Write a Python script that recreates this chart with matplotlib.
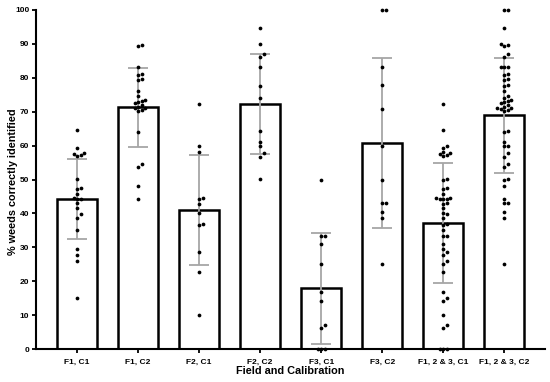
import numpy as np
import matplotlib
matplotlib.use("Agg")
import matplotlib.pyplot as plt

plt.rcParams['font.family'] = ['Liberation Sans', 'DejaVu Sans']
plt.rcParams['font.weight'] = 'bold'

groups = ["F1, C1", "F1, C2", "F2, C1", "F2, C2", "F3, C1", "F3, C2",
          "F1, 2 & 3, C1", "F1, 2 & 3, C2"]

f1_c1 = [64.6, 59.3, 57.8, 57.5, 57.1, 56.9, 50.1, 47.4, 47.2, 45.7, 44.6,
         44.4, 44.2, 43.0, 41.5, 39.7, 38.8, 35.1, 29.4, 27.9, 26.0, 15.0]
f1_c2 = [89.6, 89.3, 83.3, 81.1, 80.8, 79.6, 79.2, 76.1, 74.7, 73.5, 73.2,
         72.8, 72.5, 72.0, 71.5, 71.2, 71.0, 70.6, 70.3, 64.1, 54.5, 53.8,
         48.1, 44.2]
f2_c1 = [72.3, 60.0, 58.2, 44.5, 44.3, 42.8, 40.1, 36.9, 36.6, 28.7, 22.8, 10.0]
f2_c2 = [94.6, 89.9, 86.9, 86.2, 83.3, 77.7, 74.0, 64.3, 61.2, 60.0, 57.7,
         56.7, 50.1]
f3_c1 = [50.0, 33.5, 33.3, 31.0, 25.0, 16.7, 14.3, 7.0, 6.2, 0.0, 0.0, 0.0]
f3_c2 = [100.0, 100.0, 83.3, 77.8, 70.8, 60.0, 50.0, 43.0, 43.0, 40.5, 38.7, 25.0]
all_c1 = f1_c1 + f2_c1 + f3_c1
all_c2 = f1_c2 + f2_c2 + f3_c2

points = [f1_c1, f1_c2, f2_c1, f2_c2, f3_c1, f3_c2, all_c1, all_c2]
means = [44.4, 71.3, 40.9, 72.3, 17.9, 60.8, 37.2, 68.9]
sds = [11.8, 11.6, 16.2, 14.8, 16.3, 25.1, 17.7, 17.0]


def swarm_offsets(vals, d_px=3.4, px_per_y=3.39, px_per_x=61.0):
    """Simple beeswarm: nudge dots sideways until they no longer overlap."""
    order = np.argsort(vals)
    placed = []
    offs = np.zeros(len(vals))
    for idx in order:
        y = vals[idx] * px_per_y
        k = 0
        while True:
            step = (k + 1) // 2 * (1 if k % 2 else -1)
            x = step * d_px
            if all((x - px) ** 2 + (y - py) ** 2 >= d_px ** 2 for px, py in placed):
                break
            k += 1
        placed.append((x, y))
        offs[idx] = x / px_per_x
    return offs


fig = plt.figure(figsize=(5.5, 3.82), dpi=100)
ax = fig.add_axes([0.066, 0.086, 0.925, 0.888])

x = np.arange(len(groups))
ax.bar(x, means, width=0.65, color="white", edgecolor="black",
       linewidth=1.8, zorder=1)
ax.errorbar(x, means, yerr=sds, fmt="none", ecolor="#a6a6a6",
            elinewidth=1.3, capsize=7, capthick=1.3, zorder=2)

for i, vals in enumerate(points):
    vals = np.array(vals)
    xs = i + swarm_offsets(vals)
    ax.plot(xs, vals, "o", color="black", ms=2.7, mew=0, zorder=3,
            clip_on=False)

ax.set_xlim(-0.67, 7.67)
ax.set_ylim(0, 100)
ax.set_yticks(np.arange(0, 101, 10))
ax.set_xticks(x)
ax.set_xticklabels(groups)
ax.tick_params(axis="both", labelsize=6, width=1.3, length=3)
ax.tick_params(axis="y", pad=2)
ax.tick_params(axis="x", pad=4)
for s in ["top", "right"]:
    ax.spines[s].set_visible(False)
for s in ["left", "bottom"]:
    ax.spines[s].set_linewidth(1.5)

ax.set_xlabel("Field and Calibration", fontsize=7.8, fontweight="bold",
              labelpad=0)
ax.set_ylabel("% weeds correctly identified", fontsize=7.8, fontweight="bold")
ax.yaxis.set_label_coords(-0.035, 0.495)

fig.savefig("out.png", dpi=100)
